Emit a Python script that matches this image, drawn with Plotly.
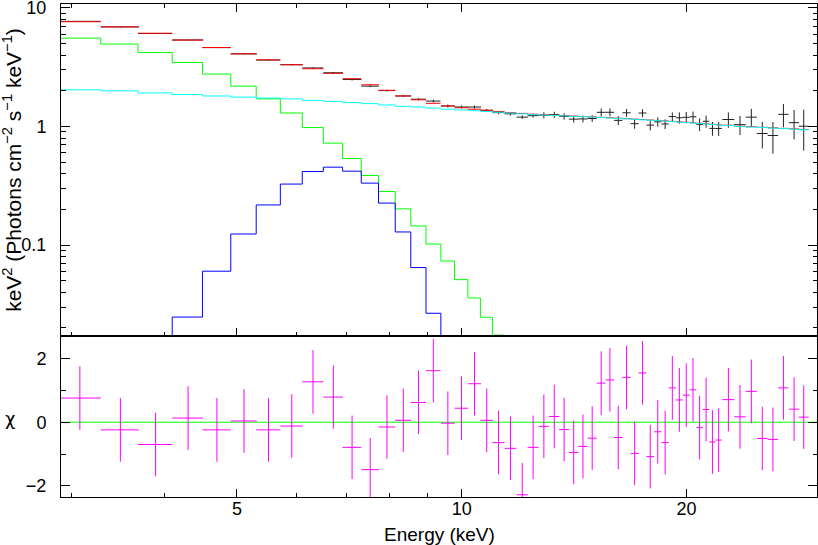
import plotly.graph_objects as go

# bin centres (keV) and half widths
energy = [3.08, 3.49, 3.89, 4.30, 4.70, 5.11, 5.51, 5.92, 6.32, 6.73,
          7.13, 7.54, 7.94, 8.35, 8.75, 9.16, 9.58, 9.99, 10.40, 10.80,
          11.20, 11.62, 12.05, 12.46, 12.88, 13.30, 13.71, 14.12, 14.53, 14.95,
          15.37, 15.79, 16.20, 16.62, 17.04, 17.46, 17.88, 18.30, 18.72, 19.14,
          19.56, 19.98, 20.40, 20.82, 21.24, 21.66, 22.08, 22.75, 23.58, 24.42,
          25.26, 26.10, 26.96, 27.86, 28.70]
half_width = [0.205, 0.205, 0.205, 0.205, 0.205, 0.205, 0.205, 0.205, 0.205, 0.205,
              0.205, 0.205, 0.205, 0.205, 0.205, 0.205, 0.205, 0.21, 0.21, 0.21,
              0.21, 0.21, 0.21, 0.21, 0.21, 0.21, 0.21, 0.21, 0.21, 0.21,
              0.21, 0.21, 0.21, 0.21, 0.21, 0.21, 0.21, 0.21, 0.21, 0.21,
              0.21, 0.21, 0.21, 0.21, 0.21, 0.21, 0.21, 0.42, 0.42, 0.42,
              0.42, 0.42, 0.43, 0.44, 0.44]

# unfolded data
data_flux = [7.71, 6.92, 6.09, 5.37, 4.63, 4.10, 3.64, 3.32, 3.12, 2.84,
             2.49, 2.19, 2.01, 1.81, 1.70, 1.64, 1.49, 1.46, 1.46, 1.37,
             1.31, 1.28, 1.20, 1.235, 1.245, 1.258, 1.218, 1.154, 1.158, 1.168,
             1.318, 1.318, 1.127, 1.306, 1.057, 1.30, 1.027, 1.095, 1.051, 1.213,
             1.186, 1.196, 1.208, 1.043, 1.107, 0.964, 0.962, 1.146, 1.037, 1.199,
             0.873, 0.84, 1.267, 1.078, 1.006]
data_err = [0.06, 0.055, 0.05, 0.045, 0.04, 0.05, 0.045, 0.042, 0.04, 0.038,
            0.045, 0.042, 0.038, 0.036, 0.035, 0.045, 0.042, 0.042, 0.045, 0.04,
            0.04, 0.04, 0.04, 0.045, 0.075, 0.075, 0.075, 0.075, 0.075, 0.075,
            0.10, 0.10, 0.10, 0.10, 0.10, 0.10, 0.10, 0.10, 0.10, 0.10,
            0.13, 0.13, 0.13, 0.13, 0.13, 0.13, 0.13, 0.17, 0.19, 0.21,
            0.22, 0.25, 0.28, 0.30, 0.38]

# total model and components
model_total = [7.66, 6.93, 6.12, 5.36, 4.64, 4.10, 3.65, 3.32, 3.07, 2.81,
               2.53, 2.25, 2.02, 1.81, 1.68, 1.57, 1.49, 1.44, 1.40, 1.37,
               1.34, 1.31, 1.29, 1.27, 1.255, 1.245, 1.235, 1.225, 1.215, 1.205,
               1.195, 1.185, 1.175, 1.165, 1.155, 1.145, 1.135, 1.125, 1.115, 1.105,
               1.095, 1.085, 1.075, 1.065, 1.055, 1.045, 1.035, 1.025, 1.005, 0.995,
               0.985, 0.975, 0.965, 0.955, 0.945]
comp_green = [5.57, 4.96, 4.21, 3.47, 2.77, 2.19, 1.71, 1.30, 0.98, 0.724,
              0.537, 0.386, 0.283, 0.202, 0.145, 0.102, 0.0734, 0.0511, 0.0358, 0.0246,
              0.0174, 0.0118]
green_start = 0
comp_blue = [0.0095, 0.0247, 0.0602, 0.124, 0.218, 0.327, 0.417, 0.454, 0.420, 0.333,
             0.226, 0.129, 0.0646, 0.0266, 0.009]
blue_start = 2
comp_cyan = [2.04, 2.00, 1.92, 1.86, 1.81, 1.77, 1.74, 1.71, 1.66, 1.63,
             1.59, 1.56, 1.52, 1.48, 1.46, 1.43, 1.40, 1.38, 1.36, 1.34,
             1.32, 1.30, 1.28, 1.26, 1.25, 1.24, 1.23, 1.22, 1.21, 1.20,
             1.19, 1.18, 1.17, 1.16, 1.15, 1.14, 1.13, 1.12, 1.11, 1.10,
             1.09, 1.08, 1.07, 1.06, 1.05, 1.04, 1.03, 1.02, 1.00, 0.99,
             0.98, 0.97, 0.96, 0.95, 0.94]

# residuals (delchi)
chi = [0.76, -0.24, -0.70, 0.13, -0.24, 0.04, -0.24, -0.12, 1.27, 0.79,
       -0.79, -1.49, -0.15, 0.06, 0.62, 1.62, -0.03, 0.44, 1.21, 0.06,
       -0.64, -0.82, -2.28, -0.79, -0.13, 0.18, -0.23, -0.95, -0.76, -0.50,
       1.23, 1.33, -0.48, 1.41, -0.98, 1.55, -1.08, -0.30, -0.64, 1.08,
       0.70, 0.85, 1.02, -0.17, 0.40, -0.62, -0.56, 0.71, 0.17, 0.97,
       -0.51, -0.54, 1.08, 0.41, 0.16]

chi_range = [-2.35, 2.71]

FONT = "Liberation Sans, Arial, sans-serif"
split = 161 / 493


def steps(start, vals):
    # histogram outline for bins start .. start+len(vals)-1
    idx = range(start, start + len(vals))
    xs = [energy[i] - half_width[i] for i in idx]
    last = start + len(vals) - 1
    xs.append(energy[last] + half_width[last])
    return xs, list(vals) + [vals[-1]]


fig = go.Figure()

# data crosses
fig.add_trace(go.Scatter(
    x=energy, y=data_flux, mode='markers',
    marker=dict(size=1, color='rgba(0,0,0,0)'),
    error_x=dict(type='data', array=half_width, color='#222222', thickness=1, width=0),
    error_y=dict(type='data', array=data_err, color='#222222', thickness=1, width=0),
    xaxis='x', yaxis='y', hoverinfo='none'
))

# total model as bin-wide bars
fig.add_trace(go.Scatter(
    x=energy, y=model_total, mode='markers',
    marker=dict(size=1, color='rgba(0,0,0,0)'),
    error_x=dict(type='data', array=half_width, color='#ff0000', thickness=1, width=0),
    xaxis='x', yaxis='y', hoverinfo='none'
))

gx, gy = steps(green_start, comp_green)
fig.add_trace(go.Scatter(x=gx, y=gy, mode='lines', line=dict(color='#00ff00', width=1, shape='hv'),
                         xaxis='x', yaxis='y', hoverinfo='none'))
bx, by = steps(blue_start, comp_blue)
fig.add_trace(go.Scatter(x=bx, y=by, mode='lines', line=dict(color='#0000ff', width=1, shape='hv'),
                         xaxis='x', yaxis='y', hoverinfo='none'))
cx, cy = steps(0, comp_cyan)
fig.add_trace(go.Scatter(x=cx, y=cy, mode='lines', line=dict(color='#00ffff', width=1, shape='hv'),
                         xaxis='x', yaxis='y', hoverinfo='none'))

# residual crosses
fig.add_trace(go.Scatter(
    x=energy, y=chi, mode='markers',
    marker=dict(size=1, color='rgba(0,0,0,0)'),
    error_x=dict(type='data', array=half_width, color='#ff00ff', thickness=1, width=0),
    error_y=dict(type='data', array=[1] * len(chi), color='#ff00ff', thickness=1, width=0),
    xaxis='x2', yaxis='y2', hoverinfo='none'
))

fig.add_shape(type='line', xref='x2 domain', yref='y2', x0=0, x1=1, y0=0, y1=0,
              line=dict(color='#00ff00', width=1), layer='below')

axis_common = dict(showgrid=False, zeroline=False, showline=True, linecolor='black',
                   linewidth=1, ticks='inside', tickcolor='black', tickwidth=1,
                   automargin=False)

x_minor = dict(tickmode='array', tickvals=[3, 4, 6, 7, 8, 9], ticklen=4,
               ticks='inside', tickcolor='black', tickwidth=1)
y_minor_vals = [0.02, 0.03, 0.04, 0.05, 0.06, 0.07, 0.08, 0.09,
                0.2, 0.3, 0.4, 0.5, 0.6, 0.7, 0.8, 0.9,
                2, 3, 4, 5, 6, 7, 8, 9]

# axis titles as annotations so they sit where the original puts them
titles = [
    dict(text='keV<sup>2</sup> (Photons cm<sup>\u22122</sup> s<sup>\u22121</sup> keV<sup>\u22121</sup>)',
         x=-0.065, y=(1 + split) / 2, textangle=-90, xanchor='center', yanchor='middle',
         font=dict(family=FONT, size=21)),
    dict(text='\u03c7', x=-0.068, y=0.16, xanchor='center', yanchor='middle',
         font=dict(family='DejaVu Sans', size=18)),
    dict(text='Energy (keV)', x=0.5, y=-0.077, xanchor='center', yanchor='middle',
         font=dict(family=FONT, size=19)),
]
for t in titles:
    fig.add_annotation(xref='paper', yref='paper', showarrow=False, **t)

fig.update_layout(
    width=818, height=545,
    margin=dict(l=61, r=1, t=4, b=48),
    paper_bgcolor='white', plot_bgcolor='white',
    showlegend=False,
    font=dict(family=FONT, size=18, color='black'),
    xaxis=dict(axis_common, type='log', range=[0.46330, 1.47567], domain=[0, 1],
               anchor='y', mirror='ticks', showticklabels=False,
               tickmode='array', tickvals=[5, 10, 20], ticklen=8, minor=x_minor),
    xaxis2=dict(axis_common, type='log', range=[0.46330, 1.47567], domain=[0, 1],
                anchor='y2', matches='x', mirror=True,
                tickmode='array', tickvals=[5, 10, 20], ticktext=['5', '10', '20'],
                ticklen=8, minor=x_minor, ticklabelstandoff=-5),
    yaxis=dict(axis_common, type='log', range=[-1.76700, 1.03342], domain=[split, 1],
               anchor='x', mirror='ticks', ticklabeloverflow='allow',
               tickmode='array', tickvals=[0.1, 1, 10], ticktext=['0.1', '1', '10'],
               ticklen=9, ticklabelstandoff=10,
               minor=dict(tickmode='array', tickvals=y_minor_vals, ticklen=4.5,
                          ticks='inside', tickcolor='black', tickwidth=1)),
    yaxis2=dict(axis_common, range=chi_range, domain=[0, split], anchor='x2', mirror='ticks',
                tickmode='array', tickvals=[-2, 0, 2], ticktext=['\u22122', '0', '2'],
                ticklen=9, ticklabelstandoff=10,
                minor=dict(tickmode='array', tickvals=[-1, 1], ticklen=4.5,
                           ticks='inside', tickcolor='black', tickwidth=1)),
)

fig.write_html("out.html", config={'displayModeBar': False},
               post_script="document.body.style.margin='0';")
